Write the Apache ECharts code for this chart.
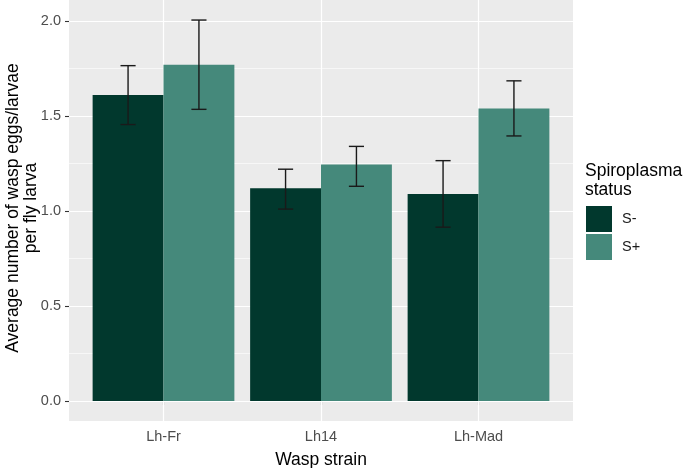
<!DOCTYPE html>
<html><head><meta charset="utf-8">
<script src="https://cdn.jsdelivr.net/npm/echarts@6/dist/echarts.min.js"></script>
<style>html,body{margin:0;padding:0;background:#fff}#c{width:685px;height:468px}</style>
</head><body><div id="c"></div>
<script>
var categories = ['Lh-Fr', 'Lh14', 'Lh-Mad'];
var seriesNames = ['S-', 'S+'];
var meanMinus = [1.61, 1.12, 1.09];
var meanPlus = [1.77, 1.245, 1.54];
var lowMinus = [1.455, 1.01, 0.915];
var highMinus = [1.765, 1.22, 1.265];
var lowPlus = [1.535, 1.13, 1.395];
var highPlus = [2.005, 1.34, 1.685];
var yTicks = [0, 0.5, 1.0, 1.5, 2.0];
var yMinor = [0.25, 0.75, 1.25, 1.75];

var colMinus = '#01382d';
var colPlus = '#45897b';
var font = 'Liberation Sans, Arial, sans-serif';
var xPos = categories.map(function (c, i) { return i + 1; });

function barRender(side) {
  return function (params, api) {
    var x = api.value(0);
    var p0 = api.coord([x - 0.45 + (side > 0 ? 0.45 : 0), 0]);
    var p1 = api.coord([x + (side > 0 ? 0.45 : 0), api.value(1)]);
    return { type: 'rect', shape: { x: p0[0], y: p1[1], width: p1[0] - p0[0], height: p0[1] - p1[1] },
      style: { fill: api.visual('color') } };
  };
}
function errRender(side) {
  return function (params, api) {
    var x = api.value(0) + side * 0.225;
    var cx = api.coord([x, 0])[0];
    var lo = api.coord([x, api.value(1)])[1];
    var hi = api.coord([x, api.value(2)])[1];
    var w = api.size([0.048, 0])[0];
    var st = { stroke: '#1a1a1a', lineWidth: 1.4 };
    return { type: 'group', children: [
      { type: 'line', shape: { x1: cx, y1: lo, x2: cx, y2: hi }, style: st },
      { type: 'line', shape: { x1: cx - w, y1: lo, x2: cx + w, y2: lo }, style: st },
      { type: 'line', shape: { x1: cx - w, y1: hi, x2: cx + w, y2: hi }, style: st }
    ]};
  };
}
function zip2(a) { return xPos.map(function (x, i) { return [x, a[i]]; }); }
function zip3(a, b) { return xPos.map(function (x, i) { return [x, a[i], b[i]]; }); }

var gridLines = [];
yTicks.forEach(function (v) { gridLines.push({ yAxis: v, lineStyle: { width: 1.2 } }); });
yMinor.forEach(function (v) { gridLines.push({ yAxis: v, lineStyle: { width: 0.6 } }); });
xPos.forEach(function (v) { gridLines.push({ xAxis: v, lineStyle: { width: 1.2 } }); });

var chart = echarts.init(document.getElementById('c'), null, { renderer: 'canvas' });
chart.setOption({
  animation: false,
  backgroundColor: '#ffffff',
  textStyle: { fontFamily: font },
  grid: { left: 69, right: 112, top: 0, bottom: 47, show: true, backgroundColor: '#EBEBEB', borderWidth: 0,
    containLabel: false, outerBoundsMode: 'none' },
  xAxis: {
    type: 'value', min: 0.4, max: 3.6,
    axisLine: { show: false },
    axisTick: { show: true, length: 4, customValues: xPos, lineStyle: { color: '#333333', width: 1.1 } },
    axisLabel: { color: '#4d4d4d', fontSize: 14.5, margin: 8, customValues: xPos, fontFamily: font,
      formatter: function (v) { return categories[Math.round(v) - 1] || ''; } },
    splitLine: { show: false },
    name: 'Wasp strain', nameLocation: 'middle', nameGap: 30,
    nameTextStyle: { color: '#000', fontSize: 17.5, fontFamily: font }
  },
  yAxis: {
    type: 'value', min: -0.1053, max: 2.1105,
    axisLine: { show: false },
    axisTick: { show: true, length: 4, customValues: yTicks, lineStyle: { color: '#333333', width: 1.1 } },
    axisLabel: { color: '#4d4d4d', fontSize: 14.5, margin: 8, customValues: yTicks, fontFamily: font,
      formatter: function (v) { return v.toFixed(1); } },
    splitLine: { show: false }
  },
  legend: {
    orient: 'vertical', left: 586, top: 206, padding: 0, itemWidth: 26, itemHeight: 26, itemGap: 2,
    icon: 'rect', data: seriesNames,
    textStyle: { color: '#1a1a1a', fontSize: 14.5, fontFamily: font, padding: [0, 0, 0, 5] }
  },
  graphic: [
    { type: 'text', left: 585, top: 162, style: { text: 'Spiroplasma\nstatus', fill: '#000', font: '17.5px ' + font, lineHeight: 19 } },
    { type: 'text', x: 22, y: 208, rotation: Math.PI / 2,
      style: { text: 'Average number of wasp eggs/larvae\nper fly larva', fill: '#000', font: '17.5px ' + font,
        align: 'center', verticalAlign: 'middle', lineHeight: 18 } }
  ],
  series: [
    { type: 'line', data: [], z: 1, silent: true,
      markLine: { silent: true, symbol: 'none', z: 1, label: { show: false }, animation: false,
        lineStyle: { color: '#ffffff', type: 'solid' }, data: gridLines } },
    { name: 'S-', type: 'custom', data: zip2(meanMinus), renderItem: barRender(-1), z: 3,
      itemStyle: { color: colMinus }, encode: { x: 0, y: 1 } },
    { name: 'S+', type: 'custom', data: zip2(meanPlus), renderItem: barRender(1), z: 3,
      itemStyle: { color: colPlus }, encode: { x: 0, y: 1 } },
    { type: 'custom', data: zip3(lowMinus, highMinus), renderItem: errRender(-1), clip: false, z: 5, silent: true,
      encode: { x: 0, y: [1, 2] } },
    { type: 'custom', data: zip3(lowPlus, highPlus), renderItem: errRender(1), clip: false, z: 5, silent: true,
      encode: { x: 0, y: [1, 2] } }
  ]
});
</script></body></html>
